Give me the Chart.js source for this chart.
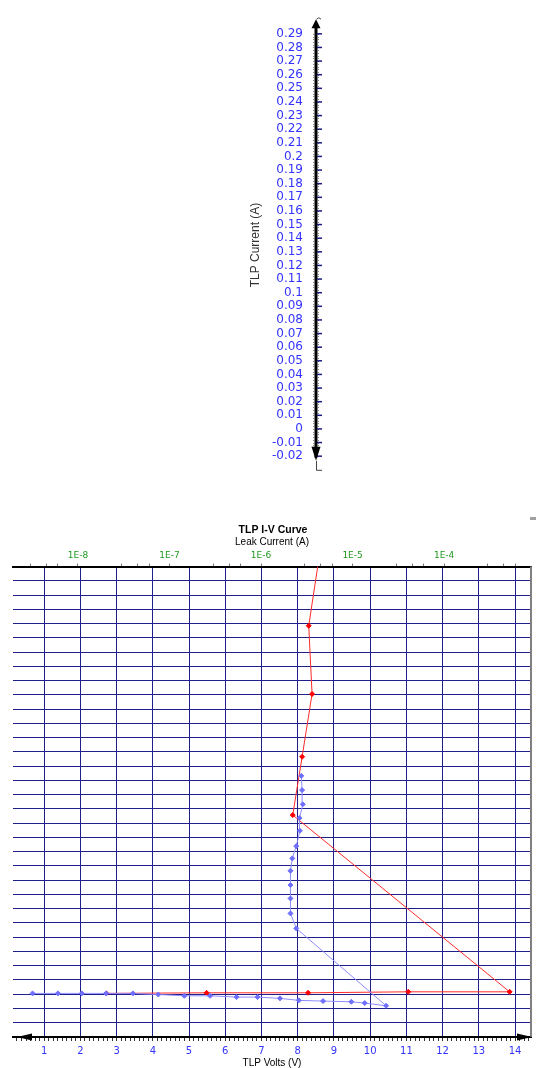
<!DOCTYPE html>
<html>
<head>
<meta charset="utf-8">
<script src="https://cdn.jsdelivr.net/npm/chart.js"></script>
<style>
body { margin: 0; background: #fff; width: 536px; height: 1068px; overflow: hidden; position: relative; }
#axis_box { position: absolute; left: 0; top: 0; width: 536px; height: 490px; }
#curve_box { position: absolute; left: 0; top: 500px; width: 536px; height: 572px; }
</style>
</head>
<body>
<div id="axis_box"><canvas id="axis_chart" width="536" height="490"></canvas></div>
<div id="curve_box"><canvas id="curve_chart" width="536" height="572"></canvas></div>
<script>
// axis ticks and ranges
const current_ticks = [0.29, 0.28, 0.27, 0.26, 0.25, 0.24, 0.23, 0.22, 0.21, 0.2,
    0.19, 0.18, 0.17, 0.16, 0.15, 0.14, 0.13, 0.12, 0.11, 0.1,
    0.09, 0.08, 0.07, 0.06, 0.05, 0.04, 0.03, 0.02, 0.01, 0, -0.01, -0.02]
const current_range = [-0.03, 0.30]
const volt_ticks = [1, 2, 3, 4, 5, 6, 7, 8, 9, 10, 11, 12, 13, 14]
const volt_range = [0.14, 14.44]
const leak_ticks = [1e-8, 1e-7, 1e-6, 1e-5, 1e-4]
const leak_range = [1.95e-9, 8.9e-4]

// blue: TLP I-V curve (TLP volts vs TLP current)
const iv_volts = [0.68, 1.38, 2.04, 2.71, 3.45, 4.15, 4.87, 5.58, 6.31, 6.89, 7.51, 8.03,
    8.70, 9.48, 9.85, 10.44, 7.96, 7.80, 7.80, 7.80, 7.80, 7.85, 7.96, 8.06, 8.05, 8.14, 8.12, 8.10]
const iv_current = [0.0006, 0.0006, 0.0006, 0.0006, 0.0006, -0.0002, -0.0011, -0.0011, -0.0020,
    -0.0020, -0.0029, -0.0043, -0.0048, -0.0053, -0.0062, -0.0081, 0.0462, 0.0567, 0.0672,
    0.0766, 0.0866, 0.0953, 0.1039, 0.1147, 0.1236, 0.1332, 0.1432, 0.1532]

// red: leak current vs TLP current
const leak_values = [2.04e-8, 2.54e-7, 3.27e-6, 4.06e-5, 5.2e-4, 2.22e-6, 2.81e-6, 3.61e-6, 3.32e-6, 4.25e-6]
const leak_tlp_current = [0.0006, 0.0010, 0.0010, 0.0017, 0.0017, 0.1257, 0.1666, 0.2106, 0.2585, 0.304]

const grid_color = '#20208a'
const tick_blue = '#3333ff'

const fmt_current = (v) => String(Math.round(v * 100) / 100)

// ruler style decoration for the lone current axis
const axis_decor = {
    id: 'axis_decor',
    afterDraw(chart) {
        const ctx = chart.ctx
        const s = chart.scales.y
        const x0 = chart.chartArea.left
        const top = s.getPixelForValue(current_range[1])
        const bottom = s.getPixelForValue(current_range[0])
        ctx.save()
        // minor ticks
        ctx.fillStyle = '#888'
        for (let i = 0; i <= 165; i++) {
            const py = Math.round(s.getPixelForValue(current_range[0] + i * 0.002))
            if (py < top + 12 || py > bottom - 18) continue
            ctx.fillRect(x0 - 3, py, 1, 1)
            ctx.fillRect(x0 + 2, py, 1, 1)
        }
        // main line
        ctx.strokeStyle = '#000'
        ctx.lineWidth = 3
        ctx.beginPath()
        ctx.moveTo(x0, top + 6)
        ctx.lineTo(x0, bottom - 12)
        ctx.stroke()
        // major ticks, right side
        ctx.strokeStyle = '#1a1a80'
        ctx.lineWidth = 1.5
        current_ticks.forEach(v => {
            const py = s.getPixelForValue(v)
            ctx.beginPath()
            ctx.moveTo(x0 + 1, py)
            ctx.lineTo(x0 + 6, py)
            ctx.stroke()
        })
        // arrows
        ctx.fillStyle = '#000'
        ctx.beginPath()
        ctx.moveTo(x0, top - 1)
        ctx.lineTo(x0 - 4.5, top + 8)
        ctx.lineTo(x0 + 4.5, top + 8)
        ctx.closePath()
        ctx.fill()
        ctx.beginPath()
        ctx.moveTo(x0, bottom - 9)
        ctx.lineTo(x0 - 4.5, bottom - 23)
        ctx.lineTo(x0 + 4.5, bottom - 23)
        ctx.closePath()
        ctx.fill()
        ctx.strokeStyle = '#444'
        ctx.lineWidth = 1
        ctx.beginPath()
        ctx.moveTo(x0 + 0.5, top - 1)
        ctx.quadraticCurveTo(x0 + 3, top - 4, x0 + 5, top - 1)
        ctx.moveTo(x0 + 0.5, bottom - 9)
        ctx.lineTo(x0 + 0.5, bottom + 0.5)
        ctx.lineTo(x0 + 6, bottom + 0.5)
        ctx.stroke()
        ctx.restore()
    }
}

new Chart(document.getElementById('axis_chart'), {
    type: 'scatter',
    data: { datasets: [] },
    options: {
        responsive: false,
        animation: false,
        devicePixelRatio: 1,
        layout: { padding: { left: 244, right: 10, top: 8, bottom: 12 } },
        plugins: { legend: { display: false }, tooltip: { enabled: false } },
        scales: {
            x: { display: false, min: 0, max: 1 },
            y: {
                min: current_range[0],
                max: current_range[1],
                afterBuildTicks: (s) => { s.ticks = current_ticks.map(v => ({ value: v })) },
                afterFit: (s) => { s.width = 72 },
                ticks: {
                    autoSkip: false,
                    color: tick_blue,
                    font: { family: 'DejaVu Sans', size: 12 },
                    padding: 13,
                    callback: fmt_current
                },
                grid: { display: false, drawTicks: false },
                border: { display: false },
                title: {
                    display: true,
                    text: 'TLP Current (A)',
                    color: '#333',
                    font: { family: 'Liberation Sans', size: 12 },
                    padding: { top: 4, bottom: 4 }
                }
            }
        }
    },
    plugins: [axis_decor]
})

// frame, arrows of the volts axis
const curve_decor = {
    id: 'curve_decor',
    afterDraw(chart) {
        const ctx = chart.ctx
        const a = chart.chartArea
        ctx.save()
        ctx.strokeStyle = '#808080'
        ctx.lineWidth = 2
        ctx.beginPath()
        ctx.moveTo(a.right, a.top)
        ctx.lineTo(a.right, a.bottom)
        ctx.stroke()
        ctx.fillStyle = '#000'
        ctx.beginPath()
        ctx.moveTo(a.left + 4, a.bottom)
        ctx.lineTo(a.left + 19, a.bottom - 3.5)
        ctx.lineTo(a.left + 19, a.bottom + 3.5)
        ctx.closePath()
        ctx.fill()
        ctx.beginPath()
        ctx.moveTo(a.right + 1, a.bottom)
        ctx.lineTo(a.right - 14, a.bottom - 3.5)
        ctx.lineTo(a.right - 14, a.bottom + 3.5)
        ctx.closePath()
        ctx.fill()
        ctx.fillStyle = '#a0a0a0'
        ctx.fillRect(530, 17, 6, 3)
        ctx.restore()
    }
}

new Chart(document.getElementById('curve_chart'), {
    type: 'scatter',
    data: {
        datasets: [
            {
                label: 'TLP I-V',
                data: iv_volts.map((v, i) => ({ x: v, y: iv_current[i] })),
                xAxisID: 'x',
                yAxisID: 'y',
                showLine: true,
                borderColor: '#8c8cff',
                borderWidth: 1,
                pointStyle: 'rectRot',
                pointRadius: 2.5,
                pointBackgroundColor: '#6f6fff',
                pointBorderColor: '#6f6fff',
                pointBorderWidth: 1,
                clip: 0
            },
            {
                label: 'Leakage',
                data: leak_values.map((v, i) => ({ x: v, y: leak_tlp_current[i] })),
                xAxisID: 'x2',
                yAxisID: 'y',
                showLine: true,
                borderColor: '#ff2a2a',
                borderWidth: 1,
                pointStyle: 'rectRot',
                pointRadius: 2.5,
                pointBackgroundColor: '#ff0000',
                pointBorderColor: '#ff0000',
                pointBorderWidth: 1,
                clip: 0
            }
        ]
    },
    options: {
        responsive: false,
        animation: false,
        devicePixelRatio: 1,
        layout: { padding: { left: 13, right: 3, top: 21, bottom: 0 } },
        plugins: {
            legend: { display: false },
            tooltip: { enabled: false },
            title: {
                display: true,
                text: 'TLP I-V Curve',
                color: '#000',
                font: { family: 'Liberation Sans', size: 10.5, weight: 'bold' },
                padding: { top: 3, bottom: 0 }
            }
        },
        scales: {
            x: {
                type: 'linear',
                position: 'bottom',
                min: volt_range[0],
                max: volt_range[1],
                afterBuildTicks: (s) => {
                    const list = []
                    for (let i = Math.ceil(volt_range[0] * 8); i <= Math.floor(volt_range[1] * 8); i++) list.push({ value: i / 8 })
                    s.ticks = list
                },
                afterFit: (s) => { s.height = 35 },
                ticks: {
                    autoSkip: false,
                    maxRotation: 0,
                    color: tick_blue,
                    font: { family: 'DejaVu Sans', size: 10 },
                    padding: 4,
                    callback: (v) => volt_ticks.includes(v) ? String(v) : ''
                },
                grid: {
                    color: (c) => c.tick && volt_ticks.includes(c.tick.value) ? grid_color : 'rgba(0,0,0,0)',
                    tickColor: '#333',
                    tickLength: 4
                },
                border: { display: true, color: '#000', width: 2 },
                title: {
                    display: true,
                    text: 'TLP Volts (V)',
                    color: '#000',
                    font: { family: 'Liberation Sans', size: 10 },
                    padding: { top: 0, bottom: 3 }
                }
            },
            x2: {
                type: 'logarithmic',
                position: 'top',
                min: leak_range[0],
                max: leak_range[1],
                afterBuildTicks: (s) => {
                    const list = []
                    leak_ticks.forEach(d => {
                        list.push({ value: d })
                        ;[3, 4.5, 6].forEach(m => list.push({ value: d * m }))
                        ;[3, 4.5, 6].forEach(m => { if (d === leak_ticks[0]) list.push({ value: d * m / 10 }) })
                    })
                    s.ticks = list.filter(t => t.value >= leak_range[0] && t.value <= leak_range[1])
                        .sort((p, q) => p.value - q.value)
                },
                afterFit: (s) => { s.height = 30 },
                ticks: {
                    autoSkip: false,
                    maxRotation: 0,
                    color: '#1f9a1f',
                    font: { family: 'DejaVu Sans', size: 9 },
                    padding: 3,
                    callback: (v) => leak_ticks.includes(v) ? '1E' + Math.round(Math.log10(v)) : ''
                },
                grid: { drawOnChartArea: false, tickColor: '#777', tickLength: 3 },
                border: { display: true, color: '#000', width: 2 },
                title: {
                    display: true,
                    text: 'Leak Current (A)',
                    color: '#000',
                    font: { family: 'Liberation Sans', size: 10 },
                    padding: { top: 0, bottom: 0 }
                }
            },
            y: {
                type: 'linear',
                min: current_range[0],
                max: current_range[1],
                afterBuildTicks: (s) => { s.ticks = current_ticks.map(v => ({ value: v })) },
                afterFit: (s) => { s.width = 0 },
                ticks: { display: false, autoSkip: false },
                grid: { color: grid_color, drawTicks: false },
                border: { display: false }
            }
        }
    },
    plugins: [curve_decor]
})
</script>
</body>
</html>
